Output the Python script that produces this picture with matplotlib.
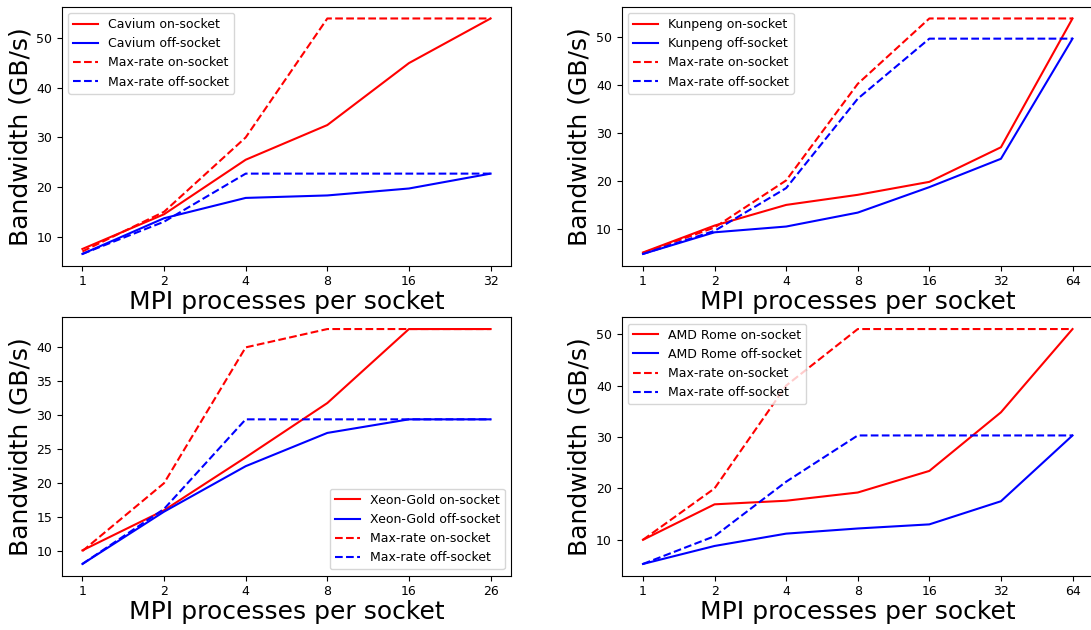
import matplotlib
matplotlib.use("Agg")
import matplotlib.pyplot as plt

# x categories per panel
x_cav = ["1", "2", "4", "8", "16", "32"]
x_kun = ["1", "2", "4", "8", "16", "32", "64"]
x_xeon = ["1", "2", "4", "8", "16", "26"]
x_amd = ["1", "2", "4", "8", "16", "32", "64"]

# Cavium
cav_on = [7.5, 14.5, 25.5, 32.5, 45.0, 54.0]
cav_off = [6.5, 13.7, 17.8, 18.3, 19.7, 22.7]
cav_max_on = [7.0, 15.0, 30.0, 54.0, 54.0, 54.0]
cav_max_off = [6.5, 13.0, 22.7, 22.7, 22.7, 22.7]

# Kunpeng
kun_on = [5.1, 10.7, 15.0, 17.1, 19.8, 27.0, 53.8]
kun_off = [4.8, 9.3, 10.5, 13.4, 18.7, 24.6, 49.6]
kun_max_on = [5.0, 10.3, 20.1, 40.2, 53.8, 53.8, 53.8]
kun_max_off = [4.8, 9.6, 18.5, 37.1, 49.6, 49.6, 49.6]

# Xeon-Gold
xeon_on = [10.1, 16.0, 23.8, 31.8, 42.7, 42.7]
xeon_off = [8.1, 15.8, 22.5, 27.4, 29.4, 29.4]
xeon_max_on = [10.0, 20.0, 40.0, 42.7, 42.7, 42.7]
xeon_max_off = [8.1, 16.2, 29.4, 29.4, 29.4, 29.4]

# AMD Rome
amd_on = [10.0, 16.9, 17.6, 19.2, 23.4, 34.8, 51.0]
amd_off = [5.3, 8.8, 11.2, 12.2, 13.0, 17.5, 30.3]
amd_max_on = [10.0, 20.0, 40.0, 51.0, 51.0, 51.0, 51.0]
amd_max_off = [5.3, 10.7, 21.3, 30.3, 30.3, 30.3, 30.3]

fig = plt.figure(figsize=(10.91, 6.3), dpi=100)
W, H = 1091.0, 630.0

def make_ax(l, r, t, b):
  return fig.add_axes([l / W, (H - b) / H, (r - l) / W, (b - t) / H])

ax1 = make_ax(62, 511, 6.7, 265.7)
ax2 = make_ax(621.5, 1094, 6.7, 265.7)
ax3 = make_ax(62, 511, 317.3, 575.7)
ax4 = make_ax(621.5, 1094, 317.3, 575.7)

def panel(ax, xl, name, on, off, mon, moff, loc):
  xs = list(range(len(xl)))
  ax.plot(xs, on, color="red", lw=1.5, label=name + " on-socket")
  ax.plot(xs, off, color="blue", lw=1.5, label=name + " off-socket")
  ax.plot(xs, mon, color="red", lw=1.5, ls="--", label="Max-rate on-socket")
  ax.plot(xs, moff, color="blue", lw=1.5, ls="--", label="Max-rate off-socket")
  ax.set_xticks(xs)
  ax.set_xticklabels(xl)
  ax.tick_params(labelsize=9)
  ax.set_xlabel("MPI processes per socket", fontsize=18, labelpad=1)
  ax.set_ylabel("Bandwidth (GB/s)", fontsize=18, labelpad=3)
  ax.legend(loc=loc, fontsize=9)

panel(ax1, x_cav, "Cavium", cav_on, cav_off, cav_max_on, cav_max_off, "upper left")
panel(ax2, x_kun, "Kunpeng", kun_on, kun_off, kun_max_on, kun_max_off, "upper left")
panel(ax3, x_xeon, "Xeon-Gold", xeon_on, xeon_off, xeon_max_on, xeon_max_off, "lower right")
panel(ax4, x_amd, "AMD Rome", amd_on, amd_off, amd_max_on, amd_max_off, "upper left")

fig.savefig("out.png", dpi=100)
